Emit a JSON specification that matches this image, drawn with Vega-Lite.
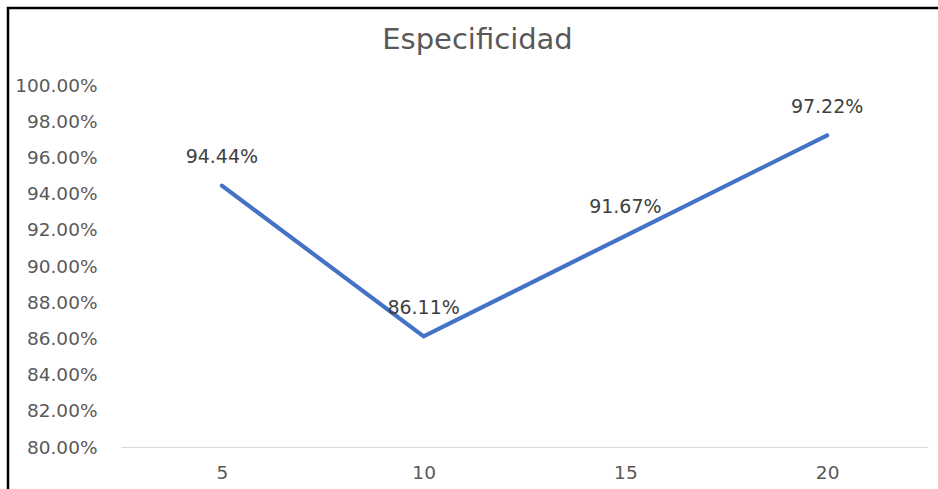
{
  "$schema": "https://vega.github.io/schema/vega-lite/v6.json",
  "width": 933,
  "height": 484,
  "autosize": {"type": "none"},
  "padding": {"left": 8, "top": 8, "right": 0, "bottom": 0},
  "background": "white",
  "title": {
    "text": "Especificidad",
    "font": "DejaVu Sans",
    "fontSize": 29,
    "fontWeight": "normal",
    "color": "#595959",
    "anchor": "middle",
    "frame": "group",
    "baseline": "alphabetic",
    "offset": 0,
    "dy": 70,
    "dx": 3
  },
  "config": {
    "view": {"stroke": "#000000", "strokeWidth": 2.5},
    "font": "DejaVu Sans"
  },
  "data": {
    "values": [
      {"k": "5", "especificidad": 0.9444},
      {"k": "10", "especificidad": 0.8611},
      {"k": "15", "especificidad": 0.9167},
      {"k": "20", "especificidad": 0.9722}
    ]
  },
  "encoding": {
    "x": {
      "field": "k",
      "type": "ordinal",
      "sort": null,
      "scale": {"type": "point", "range": [113, 920], "padding": 0.5},
      "axis": {
        "title": null,
        "orient": "bottom",
        "offset": -45,
        "labelAngle": 0,
        "ticks": false,
        "grid": false,
        "domainColor": "#d9d9d9",
        "domainWidth": 1.2,
        "labelFont": "DejaVu Sans",
        "labelFontSize": 18.5,
        "labelColor": "#595959",
        "labelPadding": 16
      }
    },
    "y": {
      "field": "especificidad",
      "type": "quantitative",
      "scale": {"domain": [0.8, 1.0], "range": [439, 77], "nice": false, "zero": false},
      "axis": {
        "title": null,
        "orient": "left",
        "offset": -113,
        "values": [0.8, 0.82, 0.84, 0.86, 0.88, 0.9, 0.92, 0.94, 0.96, 0.98, 1.0],
        "format": ".2%",
        "ticks": false,
        "domain": false,
        "grid": false,
        "labelFont": "DejaVu Sans",
        "labelFontSize": 18.5,
        "labelColor": "#595959",
        "labelPadding": 24
      }
    }
  },
  "layer": [
    {
      "mark": {"type": "line", "color": "#4472C4", "strokeWidth": 4.2, "strokeCap": "round", "strokeJoin": "miter"}
    },
    {
      "mark": {"type": "text", "font": "DejaVu Sans", "fontSize": 19, "color": "#404040", "baseline": "middle", "dy": -28.5},
      "encoding": {
        "text": {"field": "especificidad", "type": "quantitative", "format": ".2%"}
      }
    }
  ]
}
